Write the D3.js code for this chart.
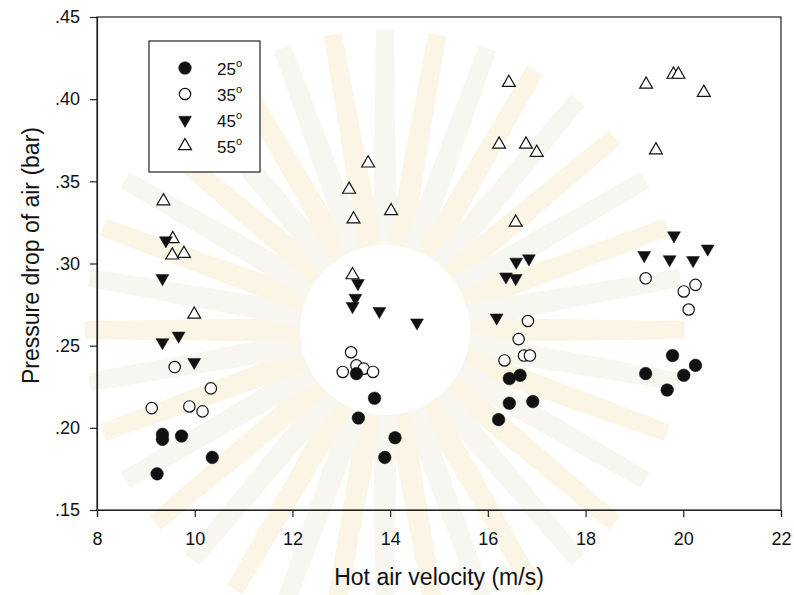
<!DOCTYPE html>
<html>
<head>
<meta charset="utf-8">
<script src="https://cdn.jsdelivr.net/npm/d3@7"></script>
<style>
  body { margin: 0; background: #fff; }
  svg text { font-family: "Liberation Sans", Arial, sans-serif; fill: #111; }
</style>
</head>
<body>
<div id="chart"></div>
<script>
// data: [velocity, pressure drop]
var deg25 = [[9.23,0.172],[9.34,0.196],[9.34,0.193],[9.73,0.195],[10.36,0.182],
             [13.31,0.233],[13.68,0.218],[13.35,0.206],[14.10,0.194],[13.89,0.182],
             [16.66,0.232],[16.44,0.230],[16.44,0.215],[16.92,0.216],[16.22,0.205],
             [19.78,0.244],[20.25,0.238],[20.01,0.232],[19.23,0.233],[19.67,0.223]];
var deg35 = [[9.59,0.237],[10.33,0.224],[9.12,0.212],[9.89,0.213],[10.16,0.210],
             [13.20,0.246],[13.31,0.238],[13.03,0.234],[13.46,0.236],[13.65,0.234],
             [16.82,0.265],[16.63,0.254],[16.74,0.244],[16.86,0.244],[16.34,0.241],
             [19.23,0.291],[20.25,0.287],[20.01,0.283],[20.11,0.272]];
var deg45 = [[9.41,0.314],[9.34,0.291],[9.67,0.256],[9.34,0.252],[9.99,0.240],
             [13.34,0.288],[13.29,0.279],[13.23,0.274],[13.78,0.271],[14.55,0.264],
             [16.84,0.303],[16.58,0.301],[16.37,0.292],[16.57,0.291],[16.18,0.267],
             [19.81,0.317],[20.50,0.309],[19.20,0.305],[19.72,0.3025],[20.20,0.302]];
var deg55 = [[9.36,0.338],[9.55,0.315],[9.54,0.305],[9.78,0.306],[9.99,0.269],
             [13.55,0.361],[13.16,0.345],[14.02,0.332],[13.25,0.327],[13.23,0.293],
             [16.43,0.410],[16.23,0.3725],[16.78,0.3725],[17.00,0.3675],[16.57,0.325],
             [19.80,0.415],[19.90,0.415],[19.24,0.409],[20.42,0.404],[19.44,0.369]];

var xTicks = [8, 10, 12, 14, 16, 18, 20, 22];
var yTicks = [0.15, 0.20, 0.25, 0.30, 0.35, 0.40, 0.45];
var legendLabels = ["25", "35", "45", "55"];

var W = 794, H = 595;
var margin = {top: 17, right: 13, bottom: 85, left: 97};
var width = W - margin.left - margin.right;
var height = H - margin.top - margin.bottom;

var svg = d3.select("#chart").append("svg")
    .attr("width", W)
    .attr("height", H);

// faint emblem-like watermark behind the plot
var wm = svg.append("g").attr("transform", "translate(385,330)");
wm.selectAll("path.ray")
  .data(d3.range(0, 360, 10))
  .join("path")
  .attr("class", "ray")
  .attr("d", "M-12,-80 L12,-80 L9,-300 L-9,-300 Z")
  .attr("transform", d => "rotate(" + d + ")")
  .attr("fill", (d, i) => i % 2 ? "#faf5e4" : "#f8f6f0");
wm.append("circle").attr("r", 85).attr("fill", "#fff");

var x = d3.scaleLinear().domain([8, 22]).range([0, width]);
var y = d3.scaleLinear().domain([0.15, 0.45]).range([height, 0]);

var g = svg.append("g")
    .attr("transform", "translate(" + margin.left + "," + margin.top + ")");

// frame
g.append("rect")
  .attr("width", width).attr("height", height)
  .attr("fill", "none").attr("stroke", "#222").attr("stroke-width", 1.2);

var xAxis = g.append("g")
  .attr("transform", "translate(0," + height + ")")
  .call(d3.axisBottom(x).tickValues(xTicks).tickSize(7).tickPadding(15).tickFormat(d3.format("d")));
var yAxis = g.append("g")
  .call(d3.axisLeft(y).tickValues(yTicks).tickSize(7).tickPadding(10)
    .tickFormat(d => d3.format(".2f")(d).replace(/^0/, "")));

[xAxis, yAxis].forEach(function(a) {
  a.select(".domain").attr("stroke", "#222").attr("stroke-width", 1.2);
  a.selectAll(".tick line").attr("stroke", "#222").attr("stroke-width", 1.2);
  a.selectAll("text").attr("font-size", 18).attr("fill", "#111")
    .attr("font-family", "Liberation Sans, Arial, sans-serif");
});

svg.append("text")
  .attr("x", margin.left + width / 2).attr("y", 585)
  .attr("text-anchor", "middle").attr("font-size", 23)
  .text("Hot air velocity (m/s)");

svg.append("text")
  .attr("transform", "translate(39," + (margin.top + height / 2 - 8) + ") rotate(-90)")
  .attr("text-anchor", "middle").attr("font-size", 23)
  .text("Pressure drop of air (bar)");

// symbols
var triDown = d3.symbol().type(d3.symbolTriangle).size(72);
var triUp = d3.symbol().type(d3.symbolTriangle).size(72);

function drawCircles(data, filled) {
  g.append("g").selectAll("circle")
    .data(data).join("circle")
    .attr("cx", d => x(d[0])).attr("cy", d => y(d[1]))
    .attr("r", filled ? 6.3 : 5.7)
    .attr("fill", filled ? "#111" : "#fff")
    .attr("stroke", "#111").attr("stroke-width", filled ? 0.5 : 1.2);
}
function drawTriangles(data, down) {
  g.append("g").selectAll("path")
    .data(data).join("path")
    .attr("d", down ? triDown : triUp)
    .attr("transform", d => "translate(" + x(d[0]) + "," + y(d[1]) + ")" + (down ? " rotate(180)" : ""))
    .attr("fill", down ? "#111" : "#fff")
    .attr("stroke", "#111").attr("stroke-width", down ? 0.5 : 1.2);
}

drawCircles(deg35, false);
drawCircles(deg25, true);
drawTriangles(deg55, false);
drawTriangles(deg45, true);

// legend
var lg = svg.append("g").attr("transform", "translate(149,41)");
lg.append("rect").attr("width", 111).attr("height", 131)
  .attr("fill", "#fff").attr("stroke", "#222").attr("stroke-width", 1.2);

var rowY = [27, 53, 79, 105];
var styles = [
  {shape: "circle", fill: "#111"},
  {shape: "circle", fill: "#fff"},
  {shape: "down", fill: "#111"},
  {shape: "up", fill: "#fff"}
];
legendLabels.forEach(function(lab, i) {
  var s = styles[i];
  if (s.shape === "circle") {
    lg.append("circle").attr("cx", 36).attr("cy", rowY[i])
      .attr("r", s.fill === "#111" ? 6.3 : 5.7)
      .attr("fill", s.fill).attr("stroke", "#111")
      .attr("stroke-width", s.fill === "#111" ? 0.5 : 1.2);
  } else {
    lg.append("path")
      .attr("d", s.shape === "down" ? triDown : triUp)
      .attr("transform", "translate(36," + rowY[i] + ")" + (s.shape === "down" ? " rotate(180)" : ""))
      .attr("fill", s.fill).attr("stroke", "#111")
      .attr("stroke-width", s.fill === "#111" ? 0.5 : 1.2);
  }
  var t = lg.append("text").attr("x", 68).attr("y", rowY[i] + 7).attr("font-size", 17);
  t.append("tspan").text(lab);
  t.append("tspan").attr("font-size", 11).attr("dy", -8).text("o");
});
</script>
</body>
</html>
